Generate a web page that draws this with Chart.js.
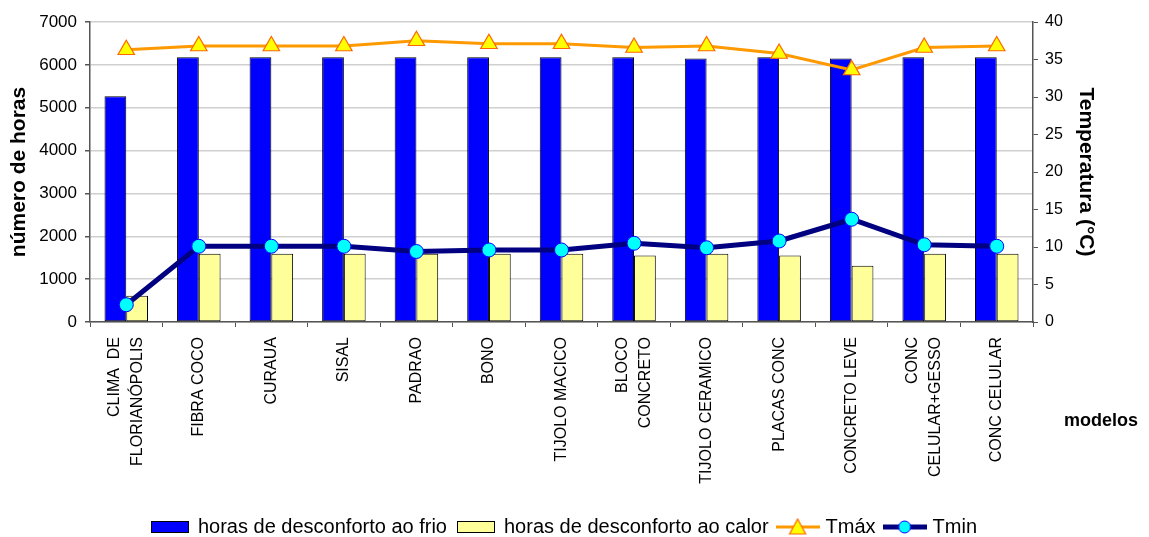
<!DOCTYPE html>
<html>
<head>
<meta charset="utf-8">
<script src="https://cdn.jsdelivr.net/npm/chart.js@4.4.1/dist/chart.umd.min.js"></script>
<style>
  html, body { margin: 0; padding: 0; background: #fff; }
</style>
</head>
<body>
<canvas id="conforto" width="1149" height="537"></canvas>
<script>
// categories (multi-line labels as arrays)
const modelos = [
  ['CLIMA  DE', 'FLORIANÓPOLIS'], 'FIBRA COCO', 'CURAUA', 'SISAL', 'PADRAO', 'BONO',
  'TIJOLO MACICO', ['BLOCO', 'CONCRETO'], 'TIJOLO CERAMICO', 'PLACAS CONC',
  'CONCRETO LEVE', ['CONC', 'CELULAR+GESSO'], 'CONC CELULAR'
];

// hours of discomfort (left axis)
const horasFrio = [5270, 6180, 6180, 6180, 6180, 6180, 6180, 6180, 6150, 6180, 6150, 6180, 6180];
const horasCalor = [610, 1590, 1590, 1590, 1590, 1590, 1590, 1550, 1590, 1550, 1310, 1590, 1590];

// temperatures in °C (right axis)
const tMax = [36.3, 36.8, 36.8, 36.8, 37.5, 37.1, 37.1, 36.6, 36.8, 35.8, 33.6, 36.6, 36.8];
const tMin = [2.3, 10.1, 10.1, 10.1, 9.4, 9.6, 9.6, 10.5, 9.9, 10.8, 13.7, 10.3, 10.1];

const FONT = "'Liberation Sans', Arial, sans-serif";
Chart.defaults.font.family = FONT;
Chart.defaults.color = '#000';

// small canvases used as legend symbols
function boxSymbol(fill) {
  const c = document.createElement('canvas');
  c.width = 40; c.height = 14;
  const g = c.getContext('2d');
  g.fillStyle = fill;
  g.fillRect(1, 1, 38, 12);
  g.strokeStyle = '#000';
  g.lineWidth = 1;
  g.strokeRect(1.5, 1.5, 37, 11);
  return c;
}

function lineSymbol(color, width, marker) {
  const c = document.createElement('canvas');
  c.width = 44; c.height = 22;
  const g = c.getContext('2d');
  g.strokeStyle = color;
  g.lineWidth = width;
  g.beginPath();
  g.moveTo(0, 11);
  g.lineTo(44, 11);
  g.stroke();
  if (marker === 'triangle') {
    g.beginPath();
    g.moveTo(22, 3);
    g.lineTo(30, 18);
    g.lineTo(14, 18);
    g.closePath();
    g.fillStyle = '#FFFF00';
    g.fill();
    g.strokeStyle = '#FF6600';
    g.lineWidth = 1.2;
    g.stroke();
  } else {
    g.beginPath();
    g.arc(22, 11, 6, 0, Math.PI * 2);
    g.fillStyle = '#00FFFF';
    g.fill();
    g.strokeStyle = '#0000FF';
    g.lineWidth = 1;
    g.stroke();
  }
  return c;
}

// center two-line category labels on their tick (Chart.js puts the first line on the tick)
const centerMultiline = {
  id: 'centerMultiline',
  beforeDraw(chart) {
    const scale = chart.scales.x;
    scale.getLabelItems().forEach(item => {
      if (Array.isArray(item.label) && !item._centered) {
        const lh = item.font.lineHeight;
        item.options.translation[0] -= (item.label.length - 1) * lh / 2;
        item._centered = true;
      }
    });
  }
};

// x axis title sits to the right of the category labels
const modelosTitle = {
  id: 'modelosTitle',
  afterDraw(chart) {
    const ctx = chart.ctx;
    ctx.save();
    ctx.font = 'bold 18px ' + FONT;
    ctx.fillStyle = '#000';
    ctx.textAlign = 'center';
    ctx.textBaseline = 'middle';
    ctx.fillText('modelos', 1101, 421);
    ctx.restore();
  }
};

const ctx = document.getElementById('conforto').getContext('2d');
new Chart(ctx, {
  type: 'bar',
  data: {
    labels: modelos,
    datasets: [
      {
        type: 'line',
        label: 'Tmáx',
        data: tMax,
        yAxisID: 'y1',
        borderColor: '#FF9900',
        borderWidth: 3,
        pointStyle: 'triangle',
        pointRadius: 9.5,
        pointBackgroundColor: '#FFFF00',
        pointBorderColor: '#FF6600',
        pointBorderWidth: 1.2,
        order: 0
      },
      {
        type: 'line',
        label: 'Tmin',
        data: tMin,
        yAxisID: 'y1',
        borderColor: '#000080',
        borderWidth: 5,
        pointStyle: 'circle',
        pointRadius: 7,
        pointBackgroundColor: '#00FFFF',
        pointBorderColor: '#0000FF',
        pointBorderWidth: 1,
        order: 1
      },
      {
        label: 'horas de desconforto ao frio',
        data: horasFrio,
        yAxisID: 'y',
        backgroundColor: '#0000FF',
        borderColor: '#000',
        borderWidth: 1,
        borderSkipped: false,
        order: 2
      },
      {
        label: 'horas de desconforto ao calor',
        data: horasCalor,
        yAxisID: 'y',
        backgroundColor: '#FFFF99',
        borderColor: '#000',
        borderWidth: 1,
        borderSkipped: false,
        order: 2
      }
    ]
  },
  options: {
    responsive: false,
    animation: false,
    datasets: {
      bar: { categoryPercentage: 0.6, barPercentage: 1.0 }
    },
    layout: { padding: { top: 22, left: 0, right: 20, bottom: -10 } },
    plugins: {
      tooltip: { enabled: false },
      legend: {
        position: 'bottom',
        labels: {
          usePointStyle: true,
          pointStyleWidth: 36,
          padding: 11,
          font: { size: 20 },
          color: '#000',
          generateLabels: function () {
            return [
              { text: 'horas de desconforto ao frio', pointStyle: boxSymbol('#0000FF'), datasetIndex: 2, lineWidth: 0 },
              { text: 'horas de desconforto ao calor', pointStyle: boxSymbol('#FFFF99'), datasetIndex: 3, lineWidth: 0 },
              { text: 'Tmáx', pointStyle: lineSymbol('#FF9900', 3, 'triangle'), datasetIndex: 0, lineWidth: 0 },
              { text: 'Tmin', pointStyle: lineSymbol('#000080', 5, 'circle'), datasetIndex: 1, lineWidth: 0 }
            ];
          }
        }
      }
    },
    scales: {
      x: {
        grid: { offset: true, drawOnChartArea: false, tickLength: 5, tickColor: '#555' },
        border: { color: '#555', width: 1.5 },
        ticks: {
          autoSkip: false,
          maxRotation: 90,
          minRotation: 90,
          padding: 10,
          font: { size: 16, lineHeight: 1.4 }
        },
        afterFit: function (scale) { scale.height = 184; }
      },
      y: {
        position: 'left',
        min: 0,
        max: 7000,
        ticks: { stepSize: 1000, padding: 8, font: { size: 17 }, callback: v => String(v) },
        grid: { color: '#d0d0d0', lineWidth: 1.5, tickLength: 5, tickColor: '#555' },
        border: { color: '#555', width: 1.5 },
        title: {
          display: true,
          text: 'número de horas',
          font: { size: 21, weight: 'bold' },
          padding: { top: 7, bottom: 0 }
        },
        afterFit: function (scale) { scale.width = 90; }
      },
      y1: {
        position: 'right',
        min: 0,
        max: 40,
        ticks: { stepSize: 5, padding: 7, font: { size: 16 }, callback: v => String(v) },
        grid: { drawOnChartArea: false, tickLength: 5, tickColor: '#555' },
        border: { color: '#555', width: 1.5 },
        title: {
          display: true,
          text: 'Temperatura (°C)',
          font: { size: 21, weight: 'bold' },
          padding: { top: 31, bottom: 0 }
        },
        afterFit: function (scale) { scale.width = 96; }
      }
    }
  },
  plugins: [centerMultiline, modelosTitle]
});
</script>
</body>
</html>
